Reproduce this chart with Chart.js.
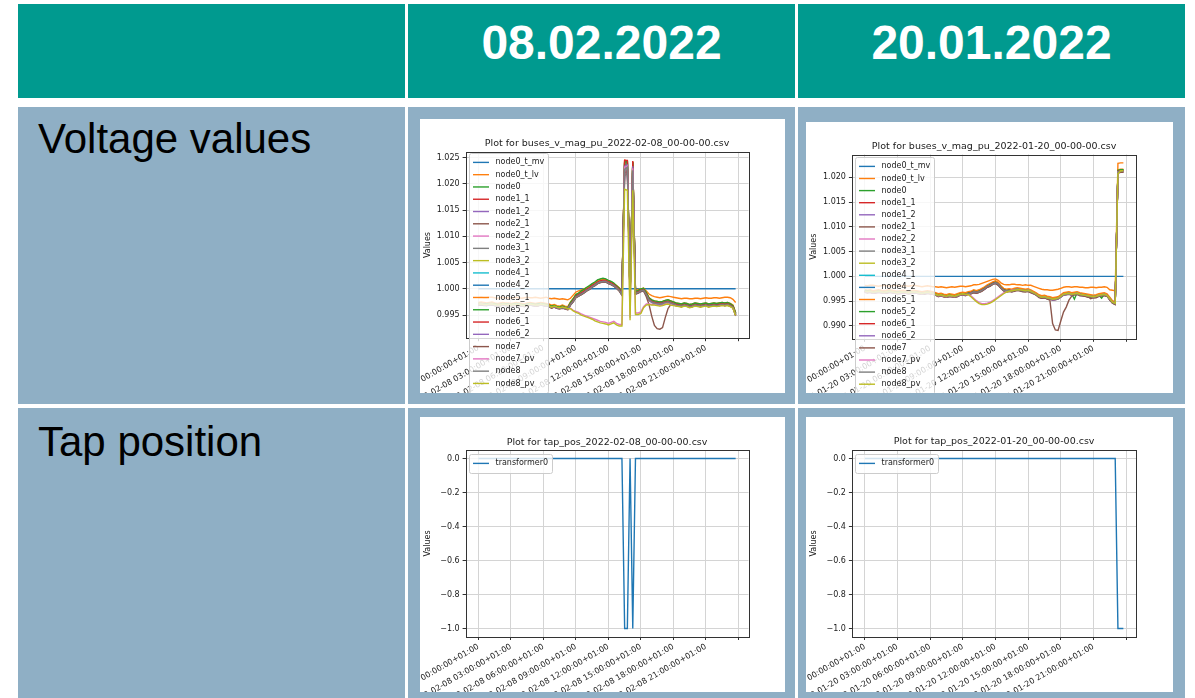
<!DOCTYPE html>
<html>
<head>
<meta charset="utf-8">
<title>Voltage values and tap position</title>
<script src="https://cdn.jsdelivr.net/npm/chart.js@4"></script>
<style>
  body { margin: 0; width: 1195px; height: 698px; overflow: hidden; position: relative; background: #fff; font-family: "Liberation Sans", Arial, sans-serif; }
  .cell { position: absolute; width: 387px; }
  .head { top: 4px; height: 94px; background: #009a8f; }
  .row2 { top: 107px; height: 297px; background: #8fafc5; }
  .row3 { top: 408px; height: 290px; background: #8fafc5; }
  .c1 { left: 18px; } .c2 { left: 408px; } .c3 { left: 798px; }
  .date { position: absolute; left: 0; right: 0; top: 15px; text-align: center; color: #fff; font-weight: bold; font-size: 48px; line-height: 48px; }
  .rowname { position: absolute; left: 20px; font-size: 42px; line-height: 42px; color: #000; }
  .plot { position: absolute; background: #fff; }
  .plot canvas { display: block; }
</style>
</head>
<body>
<div class="cell head c1"></div>
<div class="cell head c2"><div class="date">08.02.2022</div></div>
<div class="cell head c3"><div class="date">20.01.2022</div></div>
<div class="cell row2 c1"><div class="rowname" style="top:11px">Voltage values</div></div>
<div class="cell row2 c2"></div>
<div class="cell row2 c3"></div>
<div class="cell row3 c1"><div class="rowname" style="top:13px">Tap position</div></div>
<div class="cell row3 c2"></div>
<div class="cell row3 c3"></div>

<div class="plot" style="left:420px;top:119px"><canvas id="voltFeb" width="365" height="274"></canvas></div>
<div class="plot" style="left:806px;top:122px"><canvas id="voltJan" width="367" height="271"></canvas></div>
<div class="plot" style="left:420px;top:417px"><canvas id="tapFeb" width="365" height="275"></canvas></div>
<div class="plot" style="left:806px;top:417px"><canvas id="tapJan" width="367" height="275"></canvas></div>

<script>
// x axis: sample index, 96 quarter-hours per day
const steps = Array.from({ length: 96 }, (_, i) => i);
const xTickPos = [0, 12, 24, 36, 48, 60, 72, 84, 96];
const febTickLabels = ['2022-02-08 00:00:00+01:00', '2022-02-08 03:00:00+01:00', '2022-02-08 06:00:00+01:00',
    '2022-02-08 09:00:00+01:00', '2022-02-08 12:00:00+01:00', '2022-02-08 15:00:00+01:00',
    '2022-02-08 18:00:00+01:00', '2022-02-08 21:00:00+01:00', ''];
const janTickLabels = ['2022-01-20 00:00:00+01:00', '2022-01-20 03:00:00+01:00', '2022-01-20 06:00:00+01:00',
    '2022-01-20 09:00:00+01:00', '2022-01-20 12:00:00+01:00', '2022-01-20 15:00:00+01:00',
    '2022-01-20 18:00:00+01:00', '2022-01-20 21:00:00+01:00', ''];

const voltTicksFeb = [0.995, 1.000, 1.005, 1.010, 1.015, 1.020, 1.025];
const voltLabelsFeb = ['0.995', '1.000', '1.005', '1.010', '1.015', '1.020', '1.025'];
const voltTicksJan = [0.990, 0.995, 1.000, 1.005, 1.010, 1.015, 1.020];
const voltLabelsJan = ['0.990', '0.995', '1.000', '1.005', '1.010', '1.015', '1.020'];
const tapTicks = [-1.0, -0.8, -0.6, -0.4, -0.2, 0.0];
const tapLabels = ['\u22121.0', '\u22120.8', '\u22120.6', '\u22120.4', '\u22120.2', '0.0'];

const busNames = ['node0_t_mv', 'node0_t_lv', 'node0', 'node1_1', 'node1_2', 'node2_1', 'node2_2',
    'node3_1', 'node3_2', 'node4_1', 'node4_2', 'node5_1', 'node5_2', 'node6_1', 'node6_2',
    'node7', 'node7_pv', 'node8', 'node8_pv'];
const tapNames = ['transformer0'];

// bus voltages, in 1e-4 p.u. away from 1.0 p.u.
// --- 08.02.2022 ---
const feb_node0_t_mv = [0,0,0,0,0,0,0,0,0,0, 0,0,0,0,0,0,0,0,0,0, 0,0,0,0,0,0,0,0,0,0, 0,0,0,0,0,0,0,0,0,0,
    0,0,0,0,0,0,0,0,0,0, 0,0,0,0,0,0,0,0,0,0, 0,0,0,0,0,0,0,0,0,0, 0,0,0,0,0,0,0,0,0,0, 0,0,0,0,0,0,0,0,0,0, 0,0,0,0,0,0];
const feb_node0_t_lv = [-17,-16,-17,-17,-16,-16,-17,-18,-17,-16, -17,-17,-18,-17,-16,-17,-18,-17,-16,-17,
    -17,-16,-17,-18,-17,-16,-18,-19,-18,-19, -20,-19,-20,-21,-18,-12,-6,-4,-2,0, 2,4,7,10,13,15,16,16,14,12,
    9,6,2,-4,245,244,-10,243,-2,-1, 0,1,-4,-10,-13,-15,-16,-17,-16,-15, -14,-15,-16,-17,-18,-19,-18,-18,-19,-19,
    -18,-18,-19,-18,-17,-18,-18,-17,-17,-18, -17,-16,-16,-17,-20,-26];
const feb_node0 = [-28,-27,-28,-29,-28,-27,-29,-30,-29,-28, -29,-29,-30,-29,-28,-29,-30,-31,-29,-28,
    -29,-30,-29,-28,-29,-30,-31,-33,-32,-34, -35,-33,-35,-36,-27,-20,-12,-9,-6,-3, 1,4,8,12,16,18,19,18,15,13,
    10,5,0,-8,240,241,-14,240,-6,-4, -1,0,-8,-18,-22,-24,-25,-26,-25,-23, -22,-24,-26,-28,-29,-30,-28,-29,-31,-30,
    -28,-29,-30,-29,-28,-30,-29,-28,-29,-28, -27,-28,-27,-29,-32,-46];
const feb_node1_1 = [-29,-29,-30,-30,-29,-29,-30,-31,-31,-29, -30,-31,-31,-30,-30,-30,-31,-32,-31,-29,
    -30,-31,-31,-29,-30,-31,-32,-35,-33,-35, -36,-35,-36,-38,-29,-22,-13,-10,-7,-4, 0,3,7,10,14,16,17,17,14,12,
    9,5,0,-8,245,244,-15,242,-7,-5, -2,-1,-9,-19,-23,-25,-26,-27,-26,-24, -23,-25,-27,-29,-30,-31,-29,-30,-32,-31,
    -29,-30,-31,-30,-29,-31,-30,-29,-30,-29, -28,-29,-28,-30,-33,-47];
const feb_node1_2 = [-30,-29,-30,-31,-30,-29,-31,-32,-31,-30, -31,-31,-32,-31,-30,-31,-32,-33,-31,-30,
    -31,-32,-31,-30,-31,-32,-33,-35,-34,-36, -37,-35,-37,-38,-29,-23,-15,-12,-9,-6, -2,1,5,8,12,14,15,15,12,10,
    7,3,-2,-10,236,238,-17,236,-9,-7, -4,-3,-11,-21,-25,-27,-28,-29,-28,-26, -25,-27,-29,-31,-32,-33,-31,-32,-34,-33,
    -31,-32,-33,-32,-31,-33,-32,-31,-32,-31, -30,-31,-30,-32,-35,-49];
const feb_node2_1 = [-31,-30,-31,-32,-31,-30,-32,-33,-32,-31, -32,-32,-33,-32,-31,-32,-33,-34,-32,-31,
    -32,-33,-32,-31,-32,-33,-34,-36,-35,-37, -38,-36,-38,-39,-31,-25,-17,-14,-11,-8, -4,-1,3,6,10,12,13,13,10,8,
    5,1,-4,-12,215,222,-18,205,-10,-8, -5,-4,-12,-22,-26,-28,-29,-30,-29,-27, -26,-28,-30,-32,-33,-34,-32,-33,-35,-34,
    -32,-33,-34,-33,-32,-34,-33,-32,-33,-32, -31,-32,-31,-33,-36,-50];
const feb_node2_2 = [-29,-28,-30,-30,-29,-28,-30,-31,-30,-29, -30,-30,-31,-30,-29,-31,-31,-32,-30,-29,
    -30,-31,-30,-29,-30,-31,-32,-34,-33,-35, -36,-34,-36,-37,-28,-22,-14,-11,-8,-5, -1,2,6,9,13,15,16,16,13,11,
    8,4,-1,-9,232,235,-16,233,-8,-6, -3,-2,-10,-20,-24,-26,-27,-28,-27,-25, -24,-26,-28,-30,-31,-32,-30,-31,-33,-32,
    -30,-31,-32,-31,-30,-32,-31,-30,-31,-30, -29,-30,-29,-31,-34,-48];
const feb_node3_1 = [-30,-30,-31,-31,-30,-30,-31,-32,-32,-30, -31,-32,-32,-31,-31,-31,-32,-33,-32,-30,
    -31,-32,-32,-30,-31,-32,-33,-36,-34,-36, -37,-36,-37,-39,-30,-24,-16,-13,-10,-7, -3,0,4,7,11,13,14,14,11,9,
    6,2,-3,-11,225,230,-17,220,-9,-7, -4,-3,-11,-21,-25,-27,-28,-29,-28,-26, -25,-27,-29,-31,-32,-33,-31,-32,-34,-33,
    -31,-32,-33,-32,-31,-33,-32,-31,-32,-31, -30,-31,-30,-32,-35,-49];
const feb_node3_2 = [-28,-28,-29,-29,-28,-28,-29,-30,-30,-28, -29,-30,-30,-29,-29,-29,-30,-31,-30,-28,
    -29,-30,-30,-28,-29,-30,-31,-34,-32,-34, -35,-34,-35,-37,-28,-21,-13,-10,-7,-4, 0,3,7,10,14,16,17,17,14,12,
    9,5,0,-8,239,241,-15,239,-7,-5, -2,-1,-9,-19,-23,-25,-26,-27,-26,-24, -23,-25,-27,-29,-30,-31,-29,-30,-32,-31,
    -29,-30,-31,-30,-29,-31,-30,-29,-30,-29, -28,-29,-28,-30,-33,-47];
const feb_node4_1 = [-29,-29,-29,-30,-30,-29,-30,-31,-30,-30, -30,-31,-31,-30,-29,-30,-32,-32,-30,-30,
    -30,-31,-30,-30,-30,-31,-33,-34,-33,-35, -36,-35,-36,-37,-29,-23,-15,-12,-9,-6, -2,1,5,8,12,14,15,15,12,10,
    7,3,-2,-10,237,239,-16,237,-8,-6, -3,-2,-10,-20,-24,-26,-27,-28,-27,-25, -24,-26,-28,-30,-31,-32,-30,-31,-33,-32,
    -30,-31,-32,-31,-30,-32,-31,-30,-31,-30, -29,-30,-29,-31,-34,-48];
const feb_node4_2 = [-28,-28,-28,-29,-29,-28,-29,-30,-29,-29, -29,-30,-30,-29,-28,-29,-31,-31,-29,-29,
    -29,-30,-29,-29,-29,-30,-32,-33,-32,-34, -35,-34,-35,-36,-28,-21,-13,-10,-7,-4, 0,3,7,10,14,16,17,17,14,12,
    9,5,0,-8,241,242,-15,240,-7,-5, -2,-1,-9,-19,-23,-25,-26,-27,-26,-24, -23,-25,-27,-29,-30,-31,-29,-30,-32,-31,
    -29,-30,-31,-30,-29,-31,-30,-29,-30,-29, -28,-29,-28,-30,-33,-47];
const feb_node5_1 = [-26,-25,-26,-27,-26,-25,-27,-28,-27,-26, -27,-27,-28,-27,-26,-27,-28,-29,-27,-26,
    -27,-28,-27,-26,-27,-28,-29,-31,-30,-32, -33,-31,-33,-34,-25,-19,-11,-8,-5,-2, 2,5,9,12,15,17,18,18,15,13,
    10,6,1,-7,243,243,-13,241,-5,-3, 0,1,-7,-17,-21,-23,-24,-25,-24,-22, -21,-23,-25,-27,-28,-29,-27,-28,-30,-29,
    -27,-28,-29,-28,-27,-29,-28,-27,-28,-27, -26,-27,-26,-28,-31,-45];
const feb_node5_2 = [-28,-28,-29,-29,-28,-28,-29,-30,-30,-28, -29,-29,-30,-29,-28,-29,-30,-31,-29,-28,
    -29,-30,-29,-28,-29,-30,-31,-33,-32,-34, -35,-33,-35,-36,-26,-19,-11,-8,-4,-1, 3,6,10,13,17,19,20,19,16,14,
    11,6,1,-7,242,243,-13,242,-5,-3, 0,1,-7,-17,-21,-23,-24,-25,-24,-22, -21,-23,-25,-27,-28,-29,-27,-28,-30,-29,
    -27,-28,-29,-28,-27,-29,-28,-27,-28,-27, -26,-27,-26,-28,-32,-46];
const feb_node6_1 = [-30,-29,-30,-31,-30,-29,-31,-32,-31,-30, -31,-31,-32,-31,-30,-31,-32,-33,-31,-30,
    -31,-32,-31,-30,-31,-32,-33,-35,-34,-36, -37,-35,-37,-38,-29,-22,-14,-11,-8,-5, -1,2,6,9,13,15,16,16,13,11,
    8,4,-1,-9,245,245,-16,244,-8,-6, -3,-2,-10,-20,-24,-26,-27,-28,-27,-25, -24,-26,-28,-30,-31,-32,-30,-31,-33,-32,
    -30,-31,-32,-31,-30,-32,-31,-30,-31,-30, -29,-30,-29,-31,-34,-50];
const feb_node6_2 = [-31,-30,-31,-32,-31,-30,-32,-33,-32,-31, -32,-32,-33,-32,-31,-32,-33,-34,-32,-31,
    -32,-33,-32,-31,-32,-33,-34,-36,-35,-37, -38,-36,-38,-39,-30,-24,-16,-13,-10,-7, -3,0,4,7,11,13,14,14,11,9,
    6,2,-3,-11,234,236,-18,234,-10,-8, -5,-4,-12,-22,-26,-28,-29,-30,-29,-27, -26,-28,-30,-32,-33,-34,-32,-33,-35,-34,
    -32,-33,-34,-33,-32,-34,-33,-32,-33,-32, -31,-32,-31,-33,-36,-52];
const feb_node7 = [-31,-31,-32,-32,-31,-31,-32,-33,-33,-31, -32,-33,-33,-32,-32,-32,-33,-34,-33,-31,
    -32,-33,-33,-31,-32,-33,-34,-37,-35,-37, -38,-37,-38,-40,-31,-25,-17,-14,-11,-8, -4,-1,3,6,10,12,13,13,10,8,
    5,1,-4,-12,220,226,-18,212,-10,-8, -5,-4,-15,-30,-52,-70,-76,-77,-74,-55, -38,-30,-30,-32,-33,-34,-32,-33,-35,-34,
    -32,-33,-34,-33,-32,-34,-33,-32,-33,-32, -31,-32,-31,-33,-36,-51];
const feb_node7_pv = [-30,-29,-30,-31,-30,-29,-31,-32,-31,-30, -31,-31,-32,-31,-30,-31,-32,-33,-31,-30,
    -31,-32,-31,-30,-31,-32,-33,-35,-34,-36, -37,-35,-37,-38,-37,-41,-43,-45,-48,-50, -52,-54,-56,-58,-60,-62,-63,-64,-66,-64,
    -62,-66,-68,-68,232,234,-55,230,-46,-46, -44,-34,-29,-29,-30,-30,-31,-32,-31,-29, -28,-30,-31,-32,-33,-34,-32,-33,-35,-34,
    -32,-33,-34,-33,-32,-34,-33,-32,-33,-32, -31,-32,-31,-33,-36,-50];
const feb_node8 = [-30,-30,-30,-31,-31,-30,-31,-32,-31,-31, -31,-32,-32,-31,-30,-31,-33,-33,-31,-31,
    -31,-32,-31,-31,-31,-32,-34,-35,-34,-36, -37,-36,-37,-38,-30,-24,-16,-13,-10,-7, -3,0,4,7,11,13,14,14,11,9,
    6,2,-3,-11,228,232,-17,226,-9,-7, -4,-3,-11,-21,-25,-27,-28,-29,-28,-26, -25,-27,-29,-31,-32,-33,-31,-32,-34,-33,
    -31,-32,-33,-32,-31,-33,-32,-31,-32,-31, -30,-31,-30,-32,-35,-50];
const feb_node8_pv = [-29,-29,-30,-30,-29,-29,-30,-31,-31,-29, -30,-31,-31,-30,-30,-30,-31,-32,-31,-29,
    -30,-31,-31,-29,-30,-31,-32,-35,-33,-35, -36,-35,-36,-38,-38,-42,-45,-47,-50,-52, -54,-56,-58,-61,-63,-65,-66,-67,-69,-67,
    -65,-69,-71,-71,190,188,-60,188,-49,-49, -47,-36,-31,-30,-31,-31,-32,-33,-32,-30, -29,-31,-32,-33,-34,-35,-33,-34,-36,-35,
    -33,-34,-35,-34,-33,-35,-34,-33,-34,-33, -32,-33,-32,-34,-37,-51];

// --- 20.01.2022 ---
const jan_node0_t_mv = [0,0,0,0,0,0,0,0,0,0, 0,0,0,0,0,0,0,0,0,0, 0,0,0,0,0,0,0,0,0,0, 0,0,0,0,0,0,0,0,0,0,
    0,0,0,0,0,0,0,0,0,0, 0,0,0,0,0,0,0,0,0,0, 0,0,0,0,0,0,0,0,0,0, 0,0,0,0,0,0,0,0,0,0, 0,0,0,0,0,0,0,0,0,0, 0,0,0,0,0,0];
const jan_node0_t_lv = [-18,-19,-18,-18,-19,-20,-19,-18,-19,-20, -19,-18,-19,-20,-19,-19,-20,-19,-18,-19,
    -20,-21,-20,-19,-20,-21,-21,-22,-21,-22, -23,-22,-21,-22,-21,-20,-20,-21,-20,-19, -17,-17,-16,-14,-12,-10,-8,-6,-5,-8,
    -13,-16,-17,-17,-16,-16,-17,-17,-18,-17, -18,-18,-20,-22,-24,-26,-27,-27,-28,-28, -27,-26,-24,-22,-21,-21,-22,-21,-21,-22,
    -22,-23,-23,-22,-22,-23,-22,-22,-21,-22, -27,-28,-29,228,229,229];
const jan_node0 = [-29,-30,-29,-31,-30,-29,-30,-31,-30,-29, -30,-31,-32,-31,-30,-31,-32,-31,-30,-31,
    -32,-33,-32,-31,-32,-33,-35,-37,-36,-38, -39,-37,-38,-39,-37,-35,-34,-35,-33,-32, -29,-31,-29,-26,-23,-19,-16,-13,-11,-14,
    -21,-26,-28,-27,-28,-26,-25,-26,-27,-28, -27,-29,-32,-35,-39,-41,-40,-42,-43,-45, -44,-43,-39,-35,-34,-33,-35,-46,-33,-35,
    -36,-37,-38,-39,-40,-39,-37,-36,-35,-37, -44,-51,-53,214,215,215];
const jan_node1_1 = [-30,-31,-31,-32,-31,-31,-31,-32,-32,-30, -31,-32,-33,-33,-31,-32,-33,-33,-31,-32,
    -33,-34,-34,-32,-33,-34,-36,-39,-37,-39, -40,-39,-39,-40,-39,-36,-35,-37,-34,-33, -31,-32,-30,-28,-24,-20,-18,-14,-12,-16,
    -22,-27,-30,-28,-29,-28,-26,-27,-29,-29, -28,-31,-33,-36,-41,-42,-41,-44,-44,-46, -46,-44,-40,-37,-35,-34,-37,-35,-34,-37,
    -37,-38,-40,-40,-41,-41,-38,-37,-37,-38, -46,-52,-55,213,214,214];
const jan_node1_2 = [-31,-32,-31,-33,-32,-31,-32,-33,-32,-31, -32,-33,-34,-33,-32,-33,-34,-33,-32,-33,
    -34,-35,-34,-33,-34,-35,-37,-39,-38,-40, -41,-39,-40,-41,-39,-37,-36,-37,-35,-34, -31,-33,-31,-28,-25,-21,-18,-15,-13,-16,
    -23,-28,-30,-29,-30,-28,-27,-28,-29,-30, -29,-31,-34,-37,-41,-43,-42,-44,-45,-47, -46,-45,-41,-37,-36,-35,-37,-36,-35,-37,
    -38,-39,-40,-41,-42,-41,-39,-38,-37,-39, -46,-53,-55,211,212,212];
const jan_node2_1 = [-32,-33,-32,-34,-33,-32,-33,-34,-33,-32, -33,-34,-35,-34,-33,-34,-35,-34,-33,-34,
    -35,-36,-35,-34,-35,-36,-38,-40,-39,-41, -42,-40,-41,-42,-40,-38,-37,-38,-36,-35, -32,-34,-32,-29,-26,-22,-19,-16,-14,-17,
    -24,-29,-31,-30,-31,-29,-28,-29,-30,-31, -30,-32,-35,-38,-42,-44,-43,-45,-46,-48, -47,-46,-42,-38,-37,-36,-38,-37,-36,-38,
    -39,-40,-41,-45,-43,-42,-40,-39,-38,-40, -47,-54,-56,209,210,210];
const jan_node2_2 = [-30,-31,-30,-32,-31,-30,-31,-32,-31,-30, -31,-32,-33,-32,-31,-32,-33,-32,-31,-32,
    -33,-34,-33,-32,-33,-34,-36,-38,-37,-39, -40,-38,-39,-40,-38,-36,-35,-36,-34,-33, -30,-32,-30,-27,-24,-20,-17,-14,-12,-15,
    -22,-27,-29,-28,-29,-27,-26,-27,-28,-29, -28,-30,-33,-36,-40,-42,-41,-43,-44,-46, -45,-44,-40,-36,-35,-34,-36,-35,-34,-36,
    -37,-38,-39,-40,-41,-40,-38,-37,-36,-38, -45,-52,-54,212,213,213];
const jan_node3_1 = [-31,-32,-31,-33,-32,-31,-32,-33,-33,-31, -32,-33,-34,-33,-32,-33,-34,-33,-32,-33,
    -34,-35,-34,-33,-34,-35,-37,-39,-38,-40, -41,-39,-40,-41,-39,-37,-36,-37,-35,-34, -31,-33,-31,-28,-25,-21,-18,-15,-13,-16,
    -23,-28,-30,-29,-30,-28,-27,-28,-29,-30, -29,-31,-34,-37,-41,-43,-42,-44,-45,-47, -46,-45,-41,-37,-36,-35,-37,-36,-35,-37,
    -38,-39,-40,-41,-42,-41,-39,-38,-37,-39, -46,-53,-55,210,211,211];
const jan_node3_2 = [-29,-30,-30,-31,-30,-30,-30,-31,-31,-29, -30,-31,-32,-32,-30,-31,-32,-32,-30,-31,
    -32,-33,-33,-31,-32,-33,-35,-38,-36,-38, -39,-38,-38,-39,-38,-35,-34,-36,-33,-32, -30,-31,-29,-27,-23,-19,-17,-13,-11,-15,
    -21,-26,-29,-27,-28,-27,-25,-26,-28,-28, -27,-30,-32,-35,-40,-41,-40,-43,-43,-45, -45,-43,-39,-36,-34,-33,-36,-34,-33,-36,
    -36,-37,-39,-39,-40,-40,-37,-36,-36,-37, -45,-51,-54,213,214,215];
const jan_node4_1 = [-30,-30,-30,-31,-31,-30,-30,-31,-31,-30, -30,-31,-32,-32,-31,-31,-32,-32,-31,-31,
    -32,-33,-33,-32,-32,-33,-35,-37,-37,-38, -39,-38,-38,-39,-38,-35,-35,-35,-34,-32, -30,-31,-30,-26,-24,-19,-17,-13,-12,-14,
    -22,-26,-29,-27,-29,-26,-26,-26,-28,-28, -28,-29,-33,-35,-40,-41,-41,-42,-44,-45, -45,-43,-40,-35,-35,-33,-36,-34,-34,-35,
    -37,-37,-39,-39,-41,-39,-38,-36,-36,-37, -45,-51,-54,213,214,214];
const jan_node4_2 = [-29,-30,-29,-31,-30,-29,-30,-31,-30,-29, -30,-31,-32,-31,-30,-31,-32,-31,-30,-31,
    -32,-33,-32,-31,-32,-33,-35,-37,-36,-38, -39,-37,-38,-39,-37,-35,-34,-35,-33,-32, -29,-31,-29,-26,-23,-19,-16,-13,-11,-14,
    -21,-26,-28,-27,-28,-26,-25,-26,-27,-28, -27,-29,-32,-35,-39,-41,-40,-42,-43,-45, -44,-43,-39,-35,-34,-33,-35,-34,-33,-35,
    -36,-37,-38,-39,-40,-39,-37,-36,-35,-37, -44,-51,-53,213,214,214];
const jan_node5_1 = [-27,-28,-27,-29,-28,-27,-28,-29,-28,-27, -28,-29,-30,-29,-28,-29,-30,-29,-28,-29,
    -30,-31,-30,-29,-30,-31,-33,-35,-34,-36, -37,-35,-36,-37,-35,-33,-32,-33,-31,-30, -27,-29,-27,-24,-21,-17,-14,-11,-9,-12,
    -19,-24,-26,-25,-26,-24,-23,-24,-25,-26, -25,-27,-30,-33,-37,-39,-38,-40,-41,-43, -42,-41,-37,-33,-32,-31,-33,-32,-31,-33,
    -34,-35,-36,-37,-38,-37,-35,-34,-33,-35, -42,-49,-51,215,216,216];
const jan_node5_2 = [-30,-30,-30,-32,-31,-30,-31,-32,-31,-30, -31,-32,-32,-32,-31,-32,-33,-32,-31,-32,
    -33,-34,-33,-32,-33,-34,-36,-38,-37,-39, -40,-38,-39,-40,-38,-36,-35,-36,-34,-33, -30,-32,-30,-27,-24,-20,-17,-14,-12,-15,
    -22,-27,-29,-28,-29,-27,-26,-27,-28,-29, -28,-30,-33,-36,-40,-42,-41,-43,-44,-46, -45,-44,-40,-36,-35,-34,-36,-35,-34,-36,
    -37,-38,-39,-40,-41,-40,-38,-44,-36,-38, -45,-52,-54,214,215,215];
const jan_node6_1 = [-31,-31,-31,-32,-32,-31,-32,-32,-32,-31, -31,-32,-33,-33,-32,-32,-33,-33,-32,-32,
    -33,-34,-34,-33,-33,-34,-36,-38,-38,-39, -40,-39,-39,-40,-39,-36,-36,-36,-35,-33, -31,-32,-31,-27,-25,-20,-18,-14,-13,-15,
    -23,-27,-30,-28,-30,-27,-27,-27,-29,-29, -29,-30,-34,-36,-41,-42,-42,-43,-45,-46, -46,-44,-41,-36,-36,-34,-37,-35,-35,-36,
    -38,-38,-40,-40,-42,-40,-39,-37,-37,-38, -46,-52,-55,212,213,213];
const jan_node6_2 = [-32,-32,-32,-33,-33,-32,-32,-33,-33,-32, -32,-33,-34,-34,-33,-33,-34,-34,-33,-33,
    -34,-35,-35,-34,-34,-35,-37,-39,-39,-40, -41,-40,-40,-41,-40,-37,-37,-37,-36,-34, -32,-33,-32,-28,-26,-21,-19,-15,-14,-16,
    -24,-28,-31,-29,-31,-28,-28,-28,-30,-30, -30,-31,-35,-37,-42,-43,-43,-44,-46,-47, -47,-45,-42,-37,-37,-35,-38,-36,-36,-37,
    -39,-39,-41,-41,-43,-41,-40,-38,-38,-39, -47,-53,-56,210,211,211];
const jan_node7 = [-32,-33,-32,-34,-33,-32,-33,-34,-34,-32, -33,-34,-35,-35,-33,-34,-35,-35,-33,-34,
    -35,-36,-36,-34,-35,-36,-38,-41,-39,-41, -42,-41,-41,-42,-41,-38,-37,-39,-36,-35, -33,-34,-32,-30,-26,-22,-20,-16,-14,-18,
    -24,-29,-32,-30,-31,-30,-28,-29,-31,-31, -30,-33,-35,-38,-43,-44,-43,-46,-48,-95, -108,-109,-90,-72,-62,-48,-40,-37,-36,-39,
    -39,-40,-42,-42,-43,-43,-40,-39,-39,-40, -48,-54,-57,209,210,210];
const jan_node7_pv = [-31,-32,-31,-33,-32,-31,-32,-33,-32,-31, -32,-33,-34,-33,-32,-33,-34,-33,-32,-33,
    -34,-35,-34,-33,-34,-35,-37,-39,-38,-40, -41,-39,-40,-41,-39,-37,-36,-37,-36,-39, -44,-49,-53,-55,-55,-54,-52,-49,-45,-41,
    -37,-33,-31,-29,-28,-27,-26,-27,-28,-29, -28,-30,-33,-36,-40,-42,-41,-43,-44,-46, -45,-44,-40,-36,-35,-34,-36,-35,-34,-36,
    -37,-38,-39,-40,-41,-40,-38,-37,-36,-38, -45,-52,-54,211,212,212];
const jan_node8 = [-31,-31,-31,-33,-32,-31,-31,-33,-32,-31, -31,-33,-33,-33,-32,-32,-34,-33,-32,-33,
    -33,-35,-34,-33,-33,-35,-37,-39,-38,-39, -41,-39,-39,-41,-39,-37,-36,-37,-35,-34, -31,-32,-31,-28,-25,-20,-18,-15,-13,-15,
    -23,-28,-29,-29,-30,-28,-27,-28,-29,-30, -29,-31,-34,-37,-41,-42,-42,-44,-45,-46, -46,-45,-41,-37,-36,-35,-37,-36,-35,-37,
    -38,-38,-40,-41,-42,-40,-39,-38,-37,-39, -46,-53,-55,211,212,212];
const jan_node8_pv = [-30,-31,-30,-32,-31,-30,-31,-32,-31,-30, -31,-32,-33,-32,-31,-32,-33,-32,-31,-32,
    -33,-34,-33,-32,-33,-34,-36,-38,-37,-39, -40,-38,-39,-40,-38,-36,-35,-36,-37,-41, -46,-51,-55,-57,-57,-56,-54,-51,-47,-43,
    -39,-35,-32,-30,-29,-28,-27,-27,-28,-29, -28,-30,-33,-36,-40,-42,-41,-43,-44,-46, -45,-44,-40,-36,-35,-34,-36,-35,-34,-36,
    -37,-38,-39,-40,-41,-40,-38,-37,-36,-38, -45,-52,-54,207,213,213];

// transformer tap position
const feb_transformer0 = [0,0,0,0,0,0,0,0,0,0, 0,0,0,0,0,0,0,0,0,0, 0,0,0,0,0,0,0,0,0,0, 0,0,0,0,0,0,0,0,0,0,
    0,0,0,0,0,0,0,0,0,0, 0,0,0,0,-1,-1,0,-1,0,0, 0,0,0,0,0,0,0,0,0,0, 0,0,0,0,0,0,0,0,0,0, 0,0,0,0,0,0,0,0,0,0, 0,0,0,0,0,0];
const jan_transformer0 = [0,0,0,0,0,0,0,0,0,0, 0,0,0,0,0,0,0,0,0,0, 0,0,0,0,0,0,0,0,0,0, 0,0,0,0,0,0,0,0,0,0,
    0,0,0,0,0,0,0,0,0,0, 0,0,0,0,0,0,0,0,0,0, 0,0,0,0,0,0,0,0,0,0, 0,0,0,0,0,0,0,0,0,0, 0,0,0,0,0,0,0,0,0,0, 0,0,0,-1,-1,-1];

const febVoltage = [feb_node0_t_mv, feb_node0_t_lv, feb_node0, feb_node1_1, feb_node1_2, feb_node2_1, feb_node2_2,
    feb_node3_1, feb_node3_2, feb_node4_1, feb_node4_2, feb_node5_1, feb_node5_2, feb_node6_1, feb_node6_2,
    feb_node7, feb_node7_pv, feb_node8, feb_node8_pv];
const janVoltage = [jan_node0_t_mv, jan_node0_t_lv, jan_node0, jan_node1_1, jan_node1_2, jan_node2_1, jan_node2_2,
    jan_node3_1, jan_node3_2, jan_node4_1, jan_node4_2, jan_node5_1, jan_node5_2, jan_node6_1, jan_node6_2,
    jan_node7, jan_node7_pv, jan_node8, jan_node8_pv];

// matplotlib default colour cycle
const tab10 = ['#1f77b4', '#ff7f0e', '#2ca02c', '#d62728', '#9467bd', '#8c564b', '#e377c2', '#7f7f7f', '#bcbd22', '#17becf'];

Chart.defaults.font.family = '"DejaVu Sans"';
Chart.defaults.color = '#1a1a1a';

// axes frame on top of the lines, then the legend box in the upper left
const frameAndLegend = {
    id: 'frameAndLegend',
    afterDraw(chart, args, opts) {
        const ctx = chart.ctx;
        const a = chart.chartArea;
        ctx.save();
        ctx.strokeStyle = '#333';
        ctx.lineWidth = 1;
        ctx.strokeRect(Math.round(a.left) + 0.5, Math.round(a.top) + 0.5, Math.round(a.right - a.left), Math.round(a.bottom - a.top));

        const sets = chart.data.datasets;
        ctx.font = '8px "DejaVu Sans"';
        const textW = Math.max(...sets.map(d => ctx.measureText(d.label).width));
        const x0 = Math.round(a.left + 3), y0 = Math.round(a.top + opts.top);
        const w = Math.round(27 + textW + 3);
        const h = Math.round(2 * opts.pad + (sets.length - 1) * opts.pitch);
        ctx.beginPath();
        ctx.roundRect(x0 + 0.5, y0 + 0.5, w, h, 2);
        ctx.fillStyle = 'rgba(255,255,255,0.8)';
        ctx.fill();
        ctx.strokeStyle = '#cccccc';
        ctx.stroke();
        ctx.textBaseline = 'middle';
        sets.forEach((d, k) => {
            const y = y0 + opts.pad + k * opts.pitch;
            ctx.strokeStyle = d.borderColor;
            ctx.lineWidth = 1.4;
            ctx.beginPath();
            ctx.moveTo(x0 + 4, y);
            ctx.lineTo(x0 + 20, y);
            ctx.stroke();
            ctx.fillStyle = '#1a1a1a';
            ctx.fillText(d.label, x0 + 26.5, y);
        });
        ctx.restore();
    }
};

function makePlot(id, cfg) {
    const canvas = document.getElementById(id);
    const n = cfg.series.length;
    const datasets = cfg.series.map((vals, k) => ({
        label: cfg.names[k],
        data: vals.map((v, i) => ({ x: steps[i], y: cfg.toY(v) })),
        borderColor: tab10[k % 10],
        borderWidth: 1.4,
        pointRadius: 0,
        tension: 0,
        fill: false,
        order: n - k
    }));
    const gridStyle = { color: '#d4d4d4', lineWidth: 1, tickLength: 3, tickColor: '#333', tickWidth: 1 };
    const tickFont = { size: 8 };
    return new Chart(canvas, {
        type: 'line',
        data: { datasets: datasets },
        options: {
            responsive: false,
            animation: false,
            devicePixelRatio: 1,
            events: [],
            layout: { padding: { left: 0, top: 0, bottom: 0, right: canvas.width - cfg.axes.right } },
            plugins: {
                legend: { display: false },
                tooltip: { enabled: false },
                title: {
                    display: true,
                    fullSize: false,
                    text: cfg.title,
                    color: '#1a1a1a',
                    font: { size: 9.5, weight: 'normal' },
                    padding: { top: cfg.titleTop, bottom: cfg.axes.top - cfg.titleTop - 11.4 }
                },
                frameAndLegend: cfg.legend
            },
            scales: {
                x: {
                    type: 'linear',
                    bounds: 'data',
                    min: -4.75,
                    max: 99.75,
                    afterBuildTicks: s => { s.ticks = xTickPos.map(v => ({ value: v })); },
                    afterFit: s => { s.height = canvas.height - cfg.axes.bottom; s.paddingLeft = 0; s.paddingRight = 0; },
                    ticks: {
                        autoSkip: false,
                        minRotation: 30,
                        maxRotation: 30,
                        padding: 2,
                        font: tickFont,
                        callback: (v, i) => cfg.xLabels[i]
                    },
                    grid: gridStyle,
                    border: { display: false }
                },
                y: {
                    type: 'linear',
                    bounds: 'data',
                    min: cfg.yMin,
                    max: cfg.yMax,
                    afterBuildTicks: s => { s.ticks = cfg.yTicks.map(v => ({ value: v })); },
                    afterFit: s => { s.width = cfg.axes.left; },
                    ticks: {
                        padding: 3,
                        font: tickFont,
                        callback: (v, i) => cfg.yLabels[i]
                    },
                    title: { display: true, text: 'Values', font: { size: 8 }, padding: { top: 3.5, bottom: 0 } },
                    grid: gridStyle,
                    border: { display: false }
                }
            }
        },
        plugins: [frameAndLegend]
    });
}

const toPu = v => 1 + v / 10000;
const asIs = v => v;

makePlot('voltFeb', {
    title: 'Plot for buses_v_mag_pu_2022-02-08_00-00-00.csv',
    names: busNames, series: febVoltage, toY: toPu,
    xLabels: febTickLabels, yTicks: voltTicksFeb, yLabels: voltLabelsFeb,
    yMin: 0.99058, yMax: 1.02612,
    axes: { left: 45.6, right: 328.5, top: 32.9, bottom: 219.2 }, titleTop: 18.6,
    legend: { top: 1, pad: 9.4, pitch: 12.28 }
});
makePlot('voltJan', {
    title: 'Plot for buses_v_mag_pu_2022-01-20_00-00-00.csv',
    names: busNames, series: janVoltage, toY: toPu,
    xLabels: janTickLabels, yTicks: voltTicksJan, yLabels: voltLabelsJan,
    yMin: 0.98741, yMax: 1.02459,
    axes: { left: 45.9, right: 330.3, top: 32.5, bottom: 216.8 }, titleTop: 19,
    legend: { top: 2, pad: 9.4, pitch: 12.1 }
});
makePlot('tapFeb', {
    title: 'Plot for tap_pos_2022-02-08_00-00-00.csv',
    names: tapNames, series: [feb_transformer0], toY: asIs,
    xLabels: febTickLabels, yTicks: tapTicks, yLabels: tapLabels,
    yMin: -1.05, yMax: 0.05,
    axes: { left: 45.6, right: 328.5, top: 33, bottom: 220 }, titleTop: 19.6,
    legend: { top: 3.8, pad: 9.4, pitch: 12.28 }
});
makePlot('tapJan', {
    title: 'Plot for tap_pos_2022-01-20_00-00-00.csv',
    names: tapNames, series: [jan_transformer0], toY: asIs,
    xLabels: janTickLabels, yTicks: tapTicks, yLabels: tapLabels,
    yMin: -1.05, yMax: 0.05,
    axes: { left: 45.9, right: 330.3, top: 33, bottom: 220 }, titleTop: 19,
    legend: { top: 3.8, pad: 9.4, pitch: 12.28 }
});
</script>
</body>
</html>
